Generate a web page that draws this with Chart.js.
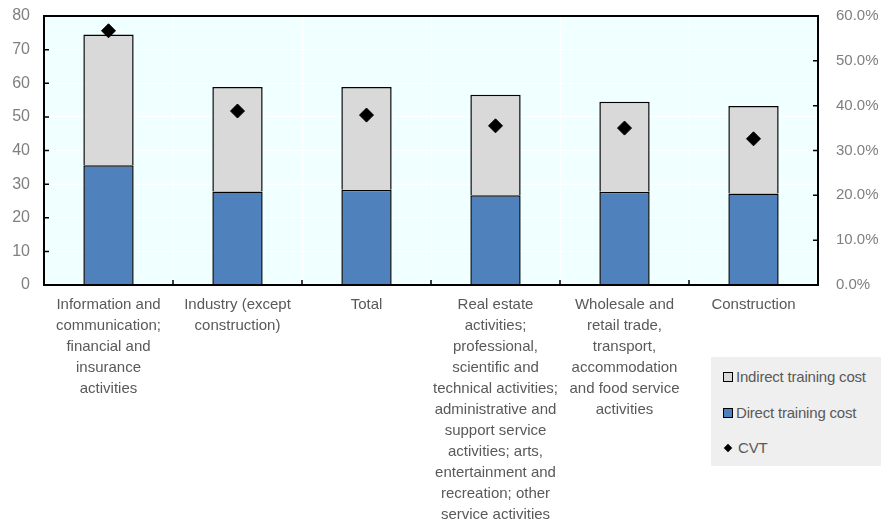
<!DOCTYPE html>
<html lang="en">
<head>
<meta charset="UTF-8">
<title>Training cost by sector</title>
<script src="https://cdn.jsdelivr.net/npm/chart.js"></script>
<style>
  html, body { margin: 0; padding: 0; background: #ffffff; }
  .janela { position: relative; width: 881px; height: 524px; }
  #grafico { position: absolute; left: 0; top: 0; }
  .legenda {
    position: absolute; left: 711px; top: 357px; width: 170px; height: 109px;
    background: #efefef; font-family: "Liberation Sans", Arial, sans-serif;
    font-size: 15px; color: #595959; letter-spacing: -0.2px;
  }
  .legenda div { position: absolute; left: 12px; height: 20px; line-height: 20px; white-space: nowrap; }
  .legenda span.box { display: inline-block; width: 8px; height: 8px; border: 1.5px solid #000; margin-right: 3px; vertical-align: 0px; }
  .legenda span.dia { display: inline-block; width: 6px; height: 6px; background: #000; transform: rotate(45deg); margin: 0 7px 0 2px; vertical-align: 2px; }
</style>
</head>
<body>
<div class="janela">
  <canvas id="grafico" width="881" height="524"></canvas>
  <div class="legenda">
    <div style="top:10px"><span class="box" style="background:#d9d9d9"></span>Indirect training cost</div>
    <div style="top:46px"><span class="box" style="background:#4f81bd"></span>Direct training cost</div>
    <div style="top:81px"><span class="dia"></span>CVT</div>
  </div>
</div>
<script>
const categorias = [
  ["Information and", "communication;", "financial and", "insurance", "activities"],
  ["Industry (except", "construction)"],
  ["Total"],
  ["Real estate", "activities;", "professional,", "scientific and", "technical activities;", "administrative and", "support service", "activities; arts,", "entertainment and", "recreation; other", "service activities"],
  ["Wholesale and", "retail trade,", "transport,", "accommodation", "and food service", "activities"],
  ["Construction"]
];
const custoDireto = [35.6, 27.8, 28.3, 26.7, 27.7, 27.2];
const custoIndireto = [38.9, 31.1, 30.6, 29.9, 26.8, 26.0];
const cvt = [56.7, 38.8, 37.9, 35.5, 35.0, 32.6];
const ticksEsquerda = [0, 10, 20, 30, 40, 50, 60, 70, 80];
const ticksDireita = [0, 10, 20, 30, 40, 50, 60];

const fonte = "'Liberation Sans', Arial, sans-serif";
const corTexto = "#595959";
const corEixo = "#7f7f7f";

// fundo e moldura da área do gráfico
const moldura = {
  id: 'moldura',
  beforeDraw(chart) {
    const a = chart.chartArea, c = chart.ctx;
    c.save();
    c.fillStyle = '#f0ffff';
    c.fillRect(a.left, a.top, a.right - a.left, a.bottom - a.top);
    c.restore();
  },
  afterDatasetsDraw(chart) {
    const a = chart.chartArea, c = chart.ctx;
    const y = chart.scales.y, y2 = chart.scales.y2, x = chart.scales.x;
    c.save();
    c.strokeStyle = '#000';
    c.lineWidth = 2;
    c.strokeRect(a.left, a.top, a.right - a.left, a.bottom - a.top);
    c.lineWidth = 1.5;
    c.beginPath();
    ticksEsquerda.forEach(v => { const p = y.getPixelForValue(v); c.moveTo(a.left, p); c.lineTo(a.left + 5, p); });
    ticksDireita.forEach(v => { const p = y2.getPixelForValue(v); c.moveTo(a.right, p); c.lineTo(a.right - 5, p); });
    for (let i = 1; i < categorias.length; i++) {
      const p = (x.getPixelForValue(i - 1) + x.getPixelForValue(i)) / 2;
      c.moveTo(p, a.bottom); c.lineTo(p, a.bottom - 5);
    }
    c.stroke();
    c.restore();
  }
};

// tamanhos fixos dos eixos, sem folga extra para os rótulos
function fixar(largura, altura) {
  return function (s) {
    if (largura) s.width = largura;
    if (altura) s.height = altura;
    s.paddingTop = 0; s.paddingBottom = 0; s.paddingLeft = 0; s.paddingRight = 0;
  };
}

new Chart(document.getElementById('grafico'), {
  data: {
    labels: categorias,
    datasets: [
      {
        type: 'line', label: 'CVT', data: cvt, yAxisID: 'y2',
        showLine: false, pointStyle: 'rectRot', pointRadius: 7, pointHoverRadius: 7,
        backgroundColor: '#000', borderColor: '#000', order: 0
      },
      {
        type: 'bar', label: 'Direct training cost', data: custoDireto, yAxisID: 'y',
        backgroundColor: '#4f81bd', borderColor: '#000', borderWidth: 1.5,
        categoryPercentage: 1, barPercentage: 0.39, order: 1
      },
      {
        type: 'bar', label: 'Indirect training cost', data: custoIndireto, yAxisID: 'y',
        backgroundColor: '#d9d9d9', borderColor: '#000', borderWidth: 1.5,
        categoryPercentage: 1, barPercentage: 0.39, order: 1
      }
    ]
  },
  options: {
    responsive: false,
    animation: false,
    layout: { padding: { top: 16, left: 0, right: 0, bottom: 0 } },
    plugins: { legend: { display: false }, tooltip: { enabled: false } },
    scales: {
      x: {
        stacked: true,
        afterFit: fixar(0, 239),
        grid: { offset: true, color: '#ffffff', drawTicks: false },
        border: { display: false },
        ticks: { color: corTexto, padding: 9, maxRotation: 0, autoSkip: false, font: { family: fonte, size: 15, lineHeight: 1.4 } }
      },
      y: {
        stacked: true, position: 'left', min: 0, max: 80,
        afterFit: fixar(44, 0),
        afterBuildTicks(s) { s.ticks = ticksEsquerda.map(v => ({ value: v })); },
        grid: { color: '#ffffff', drawTicks: false },
        border: { display: false },
        ticks: { color: corEixo, padding: 14, font: { family: fonte, size: 16 } }
      },
      y2: {
        position: 'right', min: 0, max: 60,
        afterFit: fixar(63, 0),
        afterBuildTicks(s) { s.ticks = ticksDireita.map(v => ({ value: v })); },
        grid: { display: false, drawTicks: false },
        border: { display: false },
        ticks: { color: corEixo, padding: 18, font: { family: fonte, size: 15 }, callback: v => v.toFixed(1) + '%' }
      }
    }
  },
  plugins: [moldura]
});
</script>
</body>
</html>
